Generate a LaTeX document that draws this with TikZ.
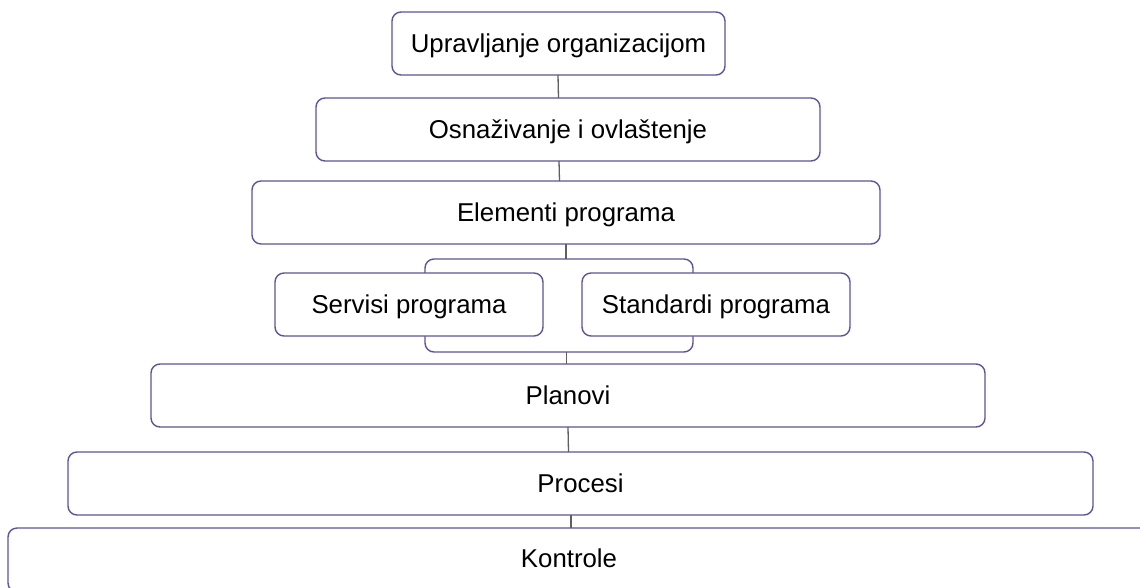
\documentclass[tikz,border=0pt]{standalone}
\usepackage{fontspec}
\setmainfont{Liberation Sans}
\definecolor{boxline}{RGB}{98,82,150}
\definecolor{connline}{RGB}{95,95,95}
\begin{document}
\begin{tikzpicture}[x=1pt,y=-1pt,
  box/.style={draw=boxline, line width=1.4pt, fill=white, rounded corners=9pt,
    inner sep=0pt, outer sep=0pt, font=\fontsize{25.8}{28}\selectfont, text=black,
    text height=19pt, text depth=1pt},
  conn/.style={draw=connline, line width=1.3pt},
  lbl/.style={inner sep=0pt, font=\fontsize{25.8}{28}\selectfont, text=black,
    text height=19pt, text depth=1pt}]
\useasboundingbox (0,0) rectangle (1140,587);
\fill[white] (0,0) rectangle (1140,587);
% boxes
\node[box, minimum width=333pt, minimum height=63pt] (org) at (558.5,43.5) {Upravljanje organizacijom};
\node[box, minimum width=504pt, minimum height=63pt] (osn) at (568,129.5) {Osnaživanje i ovlaštenje};
\node[box, minimum width=628pt, minimum height=63pt] (ele) at (566,212.5) {Elementi programa};
\node[box, minimum width=268pt, minimum height=93pt] (back) at (559,305.5) {};
\node[box, minimum width=268pt, minimum height=63pt] (ser) at (409,304.5) {Servisi programa};
\node[box, minimum width=268pt, minimum height=63pt] (sta) at (716,304.5) {Standardi programa};
\node[box, minimum width=834pt, minimum height=63pt] (pla) at (568,395.5) {Planovi};
\node[box, minimum width=1025pt, minimum height=63pt] (pro) at (580.5,483.5) {Procesi};
\node[box, minimum width=1152pt, minimum height=64pt] (kon) at (584,560) {};
\node[lbl] (kontxt) at (569,558) {Kontrole};
% connectors
\draw[conn] (org.south -| 558,0) -- (osn.north -| 558.5,0);
\draw[conn] (osn.south -| 559,0) -- (ele.north -| 559.5,0);
\draw[conn] (ele.south -| 566,0) -- (back.north -| 566,0);
\draw[conn] (back.south -| 566.5,0) -- (pla.north -| 566.5,0);
\draw[conn] (pla.south -| 568,0) -- (pro.north -| 568.5,0);
\draw[conn] (pro.south -| 571,0) -- (kon.north -| 571,0);
\end{tikzpicture}
\end{document}
